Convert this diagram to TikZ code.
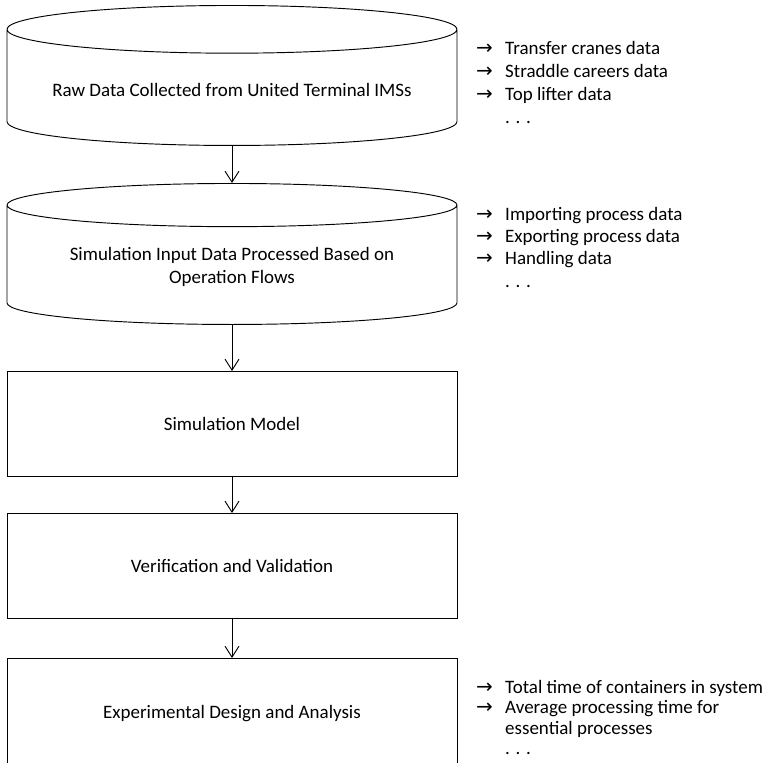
\documentclass[tikz,border=0pt]{standalone}
\usepackage{fontspec}
\setmainfont{Carlito}
\newfontfamily\arrowfont{DejaVu Sans}
\usetikzlibrary{shapes.geometric,arrows.meta}

% list item with a leading arrow
\newcommand{\itm}[1]{\makebox[0.87cm][l]{\arrowfont\fontsize{17}{17}\selectfont →}#1}
\newcommand{\gap}{\hspace*{0.87cm}}

\tikzset{
  store/.style={draw, line width=0.8pt, cylinder, shape border rotate=90,
    shape aspect=0.13, align=center, anchor=north},
  stage/.style={draw, line width=0.8pt, minimum width=13.5cm, minimum height=3.15cm,
    align=center, anchor=north},
  flow/.style={line width=0.8pt, -{Straight Barb[length=0.33cm, width=0.42cm, line width=0.8pt]}},
  notes/.style={anchor=base west, inner sep=0pt, align=left}
}

\begin{document}
\begin{tikzpicture}[font=\fontsize{16.2}{19}\selectfont]
        \useasboundingbox (0,0) rectangle (23.4,-22.89);

        % Bases de datos
        \node[store, minimum width=13.5cm, minimum height=4.2cm] (raw) at (6.96,-0.15)
            {Raw Data Collected from United Terminal IMSs};
        \node[store, minimum width=13.5cm, minimum height=4.23cm] (input) at (6.96,-5.49)
            {Simulation Input Data Processed Based on\\Operation Flows};

        % Etapas
        \node[stage] (model) at (6.96,-11.13) {Simulation Model};
        \node[stage] (valid) at (6.96,-15.39) {Verification and Validation};
        \node[stage, minimum height=3.3cm] (design) at (6.96,-19.74) {Experimental Design and Analysis};

        % Flechas
        \draw[flow] (raw) -- (input);
        \draw[flow] (input) -- (model);
        \draw[flow] (model) -- (valid);
        \draw[flow] (valid) -- (design);

        % Listas (base = ultima linea)
        \node[notes, font=\fontsize{16.2}{19.4}\selectfont] (rawlist) at (14.28,-3.69)
            {\itm{Transfer cranes data}\\\itm{Straddle careers data}\\\itm{Top lifter data}\\\gap. . .};
        \node[notes, font=\fontsize{16.2}{18.8}\selectfont] (inputlist) at (14.28,-8.61)
            {\itm{Importing process data}\\\itm{Exporting process data}\\\itm{Handling data}\\\gap. . .};
        \node[notes, font=\fontsize{16.2}{17.5}\selectfont] (designlist) at (14.28,-22.64)
            {\itm{Total time of containers in system}\\\itm{Average processing time for}\\\gap essential processes\\\gap. . .};
    \end{tikzpicture}
\end{document}
